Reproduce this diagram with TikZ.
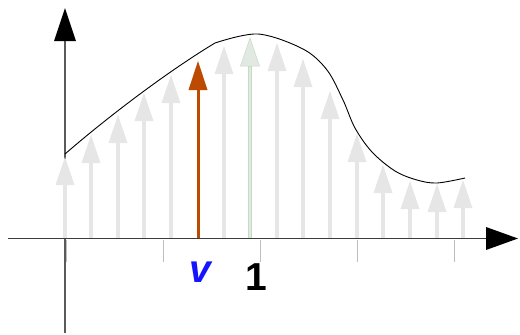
\documentclass[tikz,border=0pt]{standalone}
\usepackage{fontspec}
\setmainfont{Liberation Sans}
\definecolor{ghost}{RGB}{230,230,230}
\definecolor{ghostg}{RGB}{226,232,226}
\definecolor{rust}{RGB}{188,74,0}
\definecolor{mint}{RGB}{196,220,196}
\definecolor{tickc}{RGB}{190,190,190}
\definecolor{axc}{RGB}{60,60,60}
\definecolor{vblue}{RGB}{20,20,255}
\tikzset{
  shaft/.style={line width=3.5pt},
  lbl/.style={font=\fontsize{39}{39}\selectfont\bfseries, inner sep=0pt, anchor=base},
}
\begin{document}
\begin{tikzpicture}[x=1pt,y=-1pt]
\useasboundingbox (0,0) rectangle (520,335);
% vertical axis
\draw[color={rgb,255:red,90;green,90;blue,90}, line width=1.3pt] (65,333) -- (65,40);
\fill[black] (54,41) -- (76,41) -- (65,8) -- cycle;
% gray arrows
\foreach \x/\t in {65/157, 91/135, 118/115, 144/93, 171/75, 224/46, 277/43, 303/59, 330/91, 357/134, 383/165, 410/181, 437/184, 463/180}{
  \draw[ghost, shaft] (\x,238) -- (\x,\t+27);
  \fill[ghost] (\x-9.5,\t+28) -- (\x+9.5,\t+28) -- (\x,\t) -- cycle;
}
% green-edged arrow
\filldraw[fill=ghostg, draw=mint, line width=0.5pt] (248.3,238) rectangle (251.7,66);
\filldraw[fill=ghostg, draw=mint, line width=0.5pt] (240.5,66) -- (259.5,66) -- (250,38) -- cycle;
% orange arrow
\draw[rust, line width=3pt] (198,238) -- (198,88);
\fill[rust] (188.5,90) -- (207.5,90) -- (198,61) -- cycle;
% curve
\draw[black, line width=0.9pt] (65,154) .. controls (110,115) and (170,70) .. (215,43)
  plot[smooth, tension=0.55] coordinates {(215,43) (258,34) (303,49) (327,70) (343,100) (355,128) (372,152) (395,171) (417,180) (437,183) (465,178)};
% horizontal axis
\draw[axc, line width=1.5pt] (8,238.5) -- (488,238.5);
\fill[black] (486,227) -- (486,250) -- (518,238.5) -- cycle;
% ticks
\foreach \x in {66.5,163,260,357,454}{
  \draw[tickc, line width=1pt] (\x,240) -- (\x,262);
}
% labels
\node[lbl, text=vblue] (v) at (200,282) {\itshape v};
\node[lbl, text=black] (one) at (256,290) {1};
\end{tikzpicture}
\end{document}
